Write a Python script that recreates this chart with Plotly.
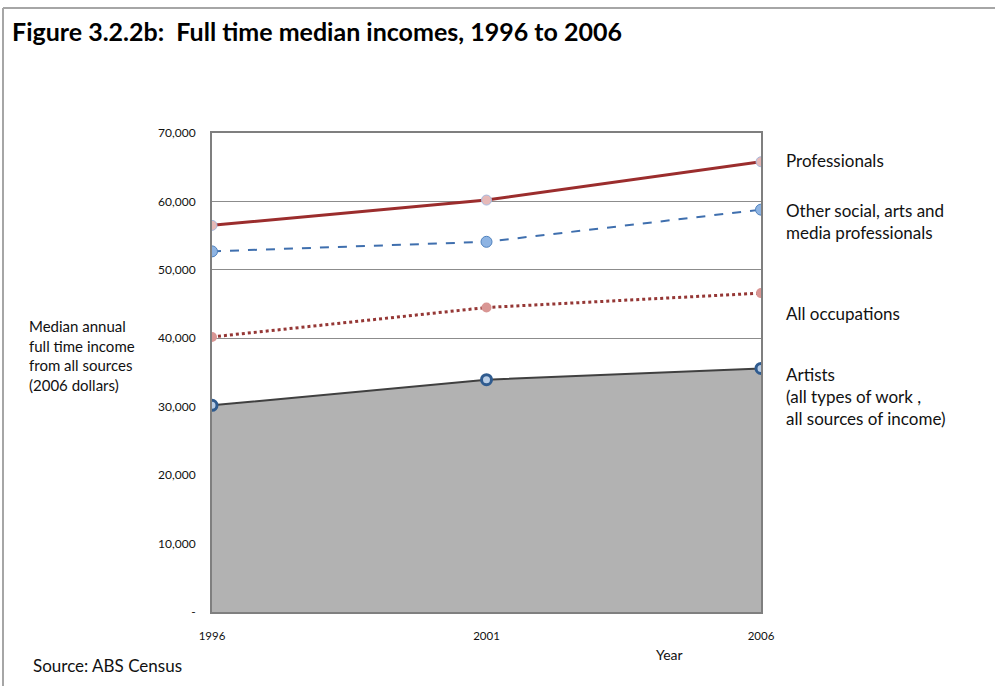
import plotly.graph_objects as go

# Census years and full-time median incomes (2006 dollars)
years = [1996, 2001, 2006]
professionals = [56500, 60200, 65800]
other_social_arts_media = [52700, 54100, 58800]
all_occupations = [40200, 44500, 46600]
artists = [30200, 33950, 35600]

y_tick_vals = [0, 10000, 20000, 30000, 40000, 50000, 60000, 70000]
y_tick_text = ["-", "10,000", "20,000", "30,000", "40,000", "50,000", "60,000", "70,000"]

W, H = 995, 686
ML, MR, MT, MB = 212, 234, 133, 74
PW, PH = W - ML - MR, H - MT - MB


def px(x):
    return (x - ML) / PW


def py(y):
    return (H - MB - y) / PH


FONT = "Lato"
fig = go.Figure()

fig.add_trace(go.Scatter(
    x=years, y=artists, mode="lines+markers", name="Artists",
    fill="tozeroy", fillcolor="#b2b2b2",
    line=dict(color="#404040", width=2),
    marker=dict(size=10, color="#b9cde5", line=dict(color="#2f5b8f", width=3)),
))
fig.add_trace(go.Scatter(
    x=years, y=all_occupations, mode="lines+markers", name="All occupations",
    line=dict(color="#953735", width=3, dash="dot"),
    marker=dict(size=10, color="#d99694"),
))
fig.add_trace(go.Scatter(
    x=years, y=other_social_arts_media, mode="lines+markers",
    name="Other social, arts and media professionals",
    line=dict(color="#3f6fae", width=2, dash="dash"),
    marker=dict(size=11, color="#8eb4e3", line=dict(color="#4f81bd", width=1)),
))
fig.add_trace(go.Scatter(
    x=years, y=professionals, mode="lines+markers", name="Professionals",
    line=dict(color="#9b2d2d", width=3),
    marker=dict(size=10, color="#e6b9b8", line=dict(color="#a7b9de", width=1)),
))

series_labels = [
    ("Professionals", 160),
    ("Other social, arts and<br>media professionals", 221),
    ("All occupations", 313),
    ("Artists<br>(all types of work ,<br>all sources of income)", 396),
]

annotations = []
for text, yc in series_labels:
    annotations.append(dict(
        text=text, xref="paper", yref="paper", x=px(784), y=py(yc),
        xanchor="left", yanchor="middle", align="left", showarrow=False,
        font=dict(family=FONT, size=17, color="#111111"),
    ))

annotations += [
    dict(text="<b>Figure 3.2.2b:  Full time median incomes, 1996 to 2006</b>",
         xref="paper", yref="paper", x=px(10), y=py(31), xanchor="left", yanchor="middle",
         showarrow=False, font=dict(family=FONT, size=25, color="#000000")),
    dict(text="Median annual<br>full time income<br>from all sources<br>(2006 dollars)",
         xref="paper", yref="paper", x=px(27), y=py(355), xanchor="left", yanchor="middle",
         align="left", showarrow=False, font=dict(family=FONT, size=15, color="#111111")),
    dict(text="Year", xref="paper", yref="paper", x=px(669), y=py(654),
         xanchor="center", yanchor="middle", showarrow=False,
         font=dict(family=FONT, size=14, color="#111111")),
    dict(text="Source: ABS Census", xref="paper", yref="paper", x=px(31), y=py(665),
         xanchor="left", yanchor="middle", showarrow=False,
         font=dict(family=FONT, size=17, color="#111111")),
]

shapes = [
    dict(type="line", xref="paper", yref="paper", x0=px(3), x1=px(3), y0=py(8), y1=py(H + 5),
         line=dict(color="#a6a6a6", width=2)),
    dict(type="line", xref="paper", yref="paper", x0=px(3), x1=px(W + 5), y0=py(8), y1=py(8),
         line=dict(color="#a6a6a6", width=2)),
]

fig.update_layout(
    width=W, height=H,
    margin=dict(l=ML, r=MR, t=MT, b=MB),
    paper_bgcolor="white", plot_bgcolor="white",
    showlegend=False,
    annotations=annotations, shapes=shapes,
    font=dict(family=FONT, color="#111111"),
)
fig.update_xaxes(
    range=[1996, 2006], tickvals=years, ticktext=[str(y) for y in years],
    showgrid=False, zeroline=False, showline=True, linecolor="#7f7f7f", linewidth=2,
    mirror=True, ticks="", tickfont=dict(family=FONT, size=11.5, color="#111111"),
    ticklabelstandoff=12,
)
fig.update_yaxes(
    range=[0, 70000], tickvals=y_tick_vals, ticktext=y_tick_text,
    showgrid=True, gridcolor="#8c8c8c", gridwidth=1, zeroline=False,
    showline=True, linecolor="#7f7f7f", linewidth=2, mirror=True, ticks="",
    tickfont=dict(family=FONT, size=12, color="#111111"), ticklabelstandoff=12,
)

fig.write_html("out.html")
